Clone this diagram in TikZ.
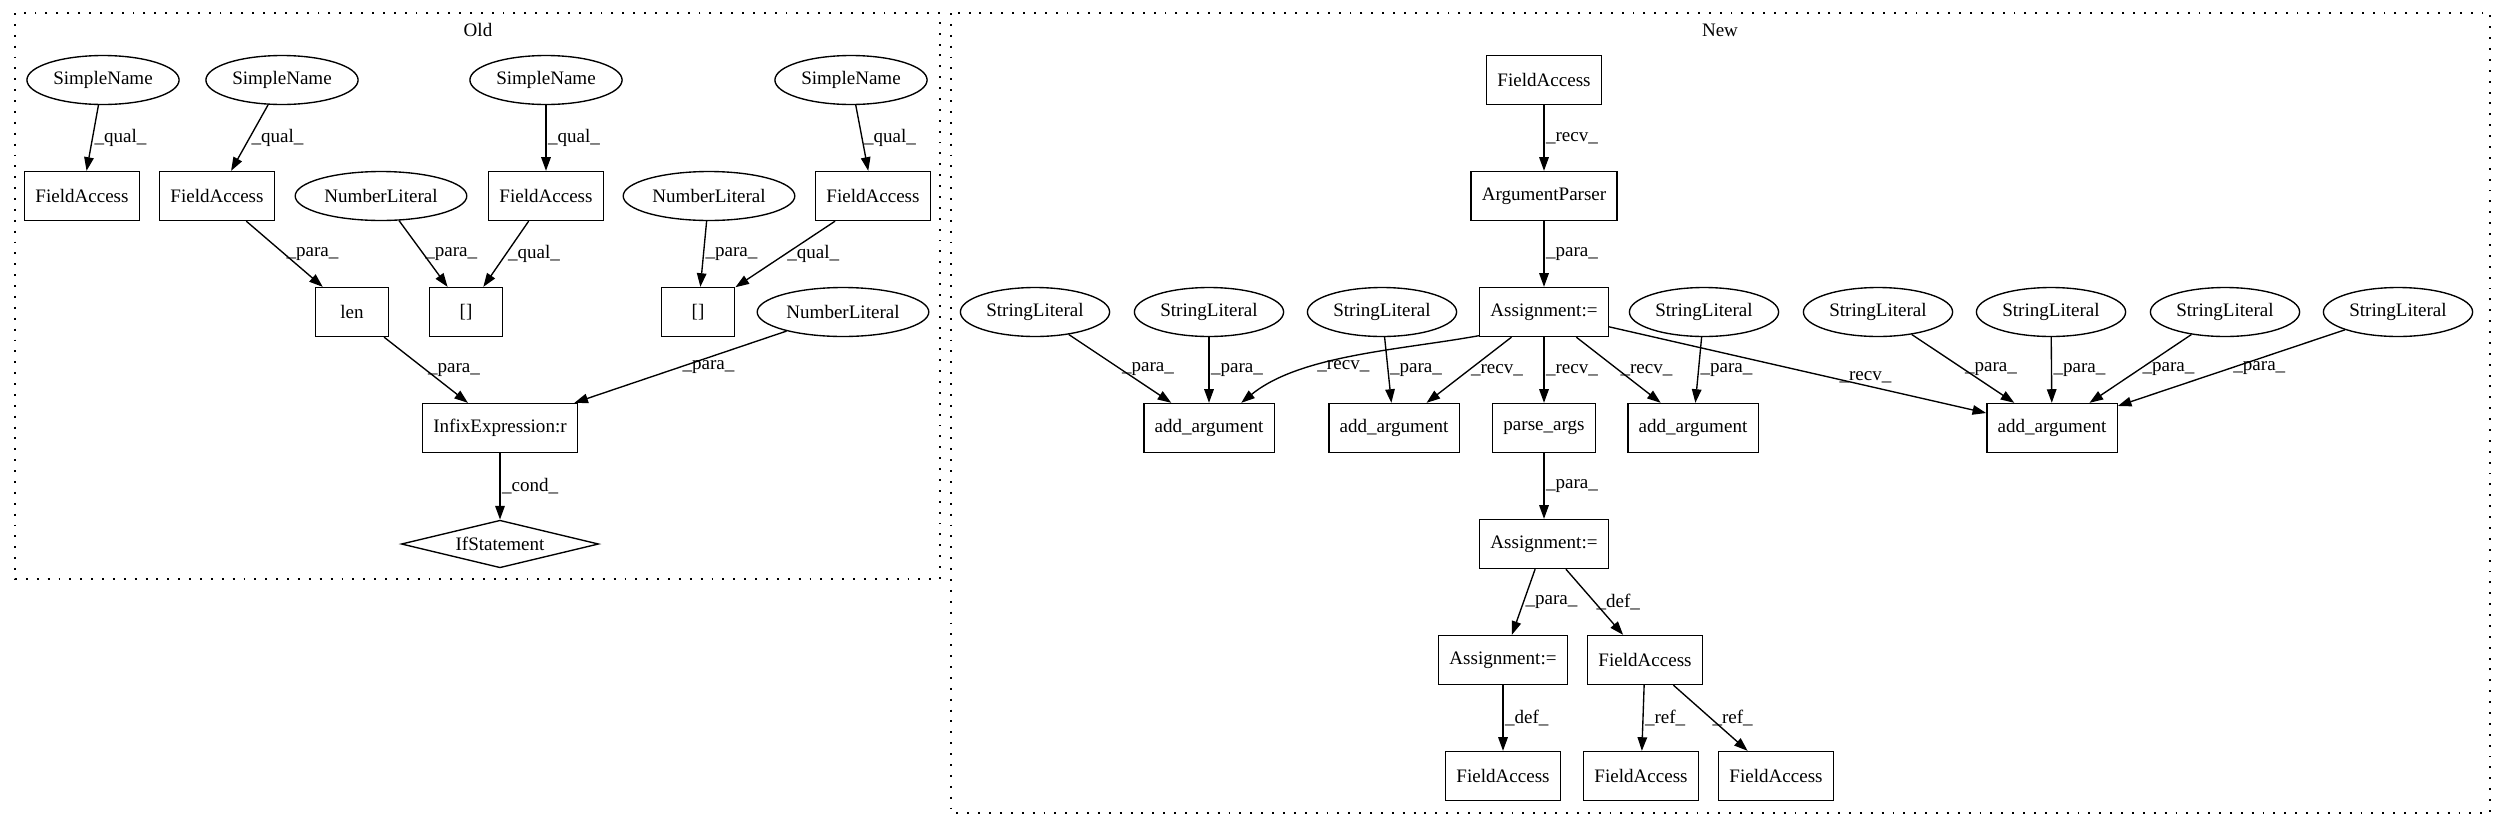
\documentclass[tikz,border=0pt]{standalone}
\usepackage{fontspec}
\setmainfont{Liberation Serif}
\usetikzlibrary{arrows.meta,shapes.geometric}

\begin{document}
\begin{tikzpicture}[x=0.735pt, y=-0.735pt,
	font=\fontsize{14pt}{16pt}\selectfont,
	box/.style={draw, rectangle, line width=1pt, minimum height=36pt, minimum width=54pt, inner xsep=8pt, inner ysep=0pt},
	oval/.style={draw, ellipse, line width=1pt, minimum height=36pt, inner xsep=3pt, inner ysep=0pt},
	ifbox/.style={draw, diamond, line width=1pt, minimum width=145pt, minimum height=35pt, inner sep=0pt, aspect=4},
	flow/.style={-{Triangle[length=10pt, width=7pt]}, line width=1pt},
	lbl/.style={right, inner sep=1pt},
	cluster/.style={dash pattern=on 1.4pt off 6.6pt, line width=1pt}]
	\useasboundingbox (0, 0) rectangle (2500, 828);

	% clusters
	\draw[cluster] (15, 13) rectangle (940, 579);
	\draw[cluster] (951, 13) rectangle (2490, 813);
	\node (oldTitle) at (478, 30) {Old};
	\node (newTitle) at (1720, 30) {New};

	% Old
	\node[oval] (snA) at (103, 80) {SimpleName};
	\node[oval] (snB) at (282, 80) {SimpleName};
	\node[oval] (snC) at (546, 80) {SimpleName};
	\node[oval] (snD) at (851, 80) {SimpleName};
	\node[box] (faA) at (82, 196) {FieldAccess};
	\node[box] (faB) at (217, 196) {FieldAccess};
	\node[box] (faC) at (546, 196) {FieldAccess};
	\node[box] (faD) at (873, 196) {FieldAccess};
	\node[oval] (nlA) at (381, 196) {NumberLiteral};
	\node[oval] (nlB) at (709, 196) {NumberLiteral};
	\node[box] (lenCall) at (352, 312) {len};
	\node[box] (idxA) at (466, 312) {[]};
	\node[box] (idxB) at (698, 312) {[]};
	\node[oval] (nlC) at (843, 312) {NumberLiteral};
	\node[box] (infix) at (500, 428) {InfixExpression:r};
	\node[ifbox] (ifst) at (500, 544) {IfStatement};

	\draw[flow] (snA) -- node[lbl] {\_qual\_} (faA);
	\draw[flow] (snB) -- node[lbl] {\_qual\_} (faB);
	\draw[flow] (snC) -- node[lbl] {\_qual\_} (faC);
	\draw[flow] (snD) -- node[lbl] {\_qual\_} (faD);
	\draw[flow] (faB) -- node[lbl] {\_para\_} (lenCall);
	\draw[flow] (nlA) -- node[lbl] {\_para\_} (idxA);
	\draw[flow] (faC) -- node[lbl] {\_qual\_} (idxA);
	\draw[flow] (nlB) -- node[lbl] {\_para\_} (idxB);
	\draw[flow] (faD) -- node[lbl] {\_qual\_} (idxB);
	\draw[flow] (lenCall) -- node[lbl] {\_para\_} (infix);
	\draw[flow] (nlC) -- node[lbl] {\_para\_} (infix);
	\draw[flow] (infix) -- node[lbl] {\_cond\_} (ifst);

	% New
	\node[box] (faTop) at (1544, 80) {FieldAccess};
	\node[box] (parser) at (1544, 196) {ArgumentParser};
	\node[box] (assignA) at (1544, 312) {Assignment:=};
	\node[oval] (slA) at (1035, 312) {StringLiteral};
	\node[oval] (slB) at (1209, 312) {StringLiteral};
	\node[oval] (slC) at (1382, 312) {StringLiteral};
	\node[oval] (slD) at (1704, 312) {StringLiteral};
	\node[oval] (slE) at (1878, 312) {StringLiteral};
	\node[oval] (slF) at (2051, 312) {StringLiteral};
	\node[oval] (slG) at (2225, 312) {StringLiteral};
	\node[oval] (slH) at (2398, 312) {StringLiteral};
	\node[box] (addA) at (1209, 428) {add\_argument};
	\node[box] (addB) at (1394, 428) {add\_argument};
	\node[box] (parseArgs) at (1544, 428) {parse\_args};
	\node[box] (addC) at (1693, 428) {add\_argument};
	\node[box] (addD) at (2052, 428) {add\_argument};
	\node[box] (assignB) at (1544, 544) {Assignment:=};
	\node[box] (assignC) at (1503, 660) {Assignment:=};
	\node[box] (faMid) at (1645, 660) {FieldAccess};
	\node[box] (faBotA) at (1503, 776) {FieldAccess};
	\node[box] (faBotB) at (1641, 776) {FieldAccess};
	\node[box] (faBotC) at (1776, 776) {FieldAccess};

	\draw[flow] (faTop) -- node[lbl] {\_recv\_} (parser);
	\draw[flow] (parser) -- node[lbl] {\_para\_} (assignA);
	\draw[flow] (slA) -- node[lbl] {\_para\_} (addA);
	\draw[flow] (slB) -- node[lbl] {\_para\_} (addA);
	\draw[flow] (assignA.200) .. controls (1400, 350) and (1300, 355) .. node[lbl, pos=0.65] {\_recv\_} (addA.38);
	\draw[flow] (slC) -- node[lbl] {\_para\_} (addB);
	\draw[flow] (assignA) -- node[lbl] {\_recv\_} (addB);
	\draw[flow] (assignA) -- node[lbl] {\_recv\_} (parseArgs);
	\draw[flow] (assignA) -- node[lbl] {\_recv\_} (addC);
	\draw[flow] (slD) -- node[lbl] {\_para\_} (addC);
	\draw[flow] (assignA) -- node[pos=0.68, above, inner sep=1pt] {\_recv\_} (addD);
	\draw[flow] (slE) -- node[lbl] {\_para\_} (addD);
	\draw[flow] (slF) -- node[lbl] {\_para\_} (addD);
	\draw[flow] (slG) -- node[lbl] {\_para\_} (addD);
	\draw[flow] (slH) -- node[lbl] {\_para\_} (addD);
	\draw[flow] (parseArgs) -- node[lbl] {\_para\_} (assignB);
	\draw[flow] (assignB) -- node[lbl] {\_para\_} (assignC);
	\draw[flow] (assignB) -- node[lbl] {\_def\_} (faMid);
	\draw[flow] (assignC) -- node[lbl] {\_def\_} (faBotA);
	\draw[flow] (faMid) -- node[lbl] {\_ref\_} (faBotB);
	\draw[flow] (faMid) -- node[lbl] {\_ref\_} (faBotC);
\end{tikzpicture}
\end{document}
